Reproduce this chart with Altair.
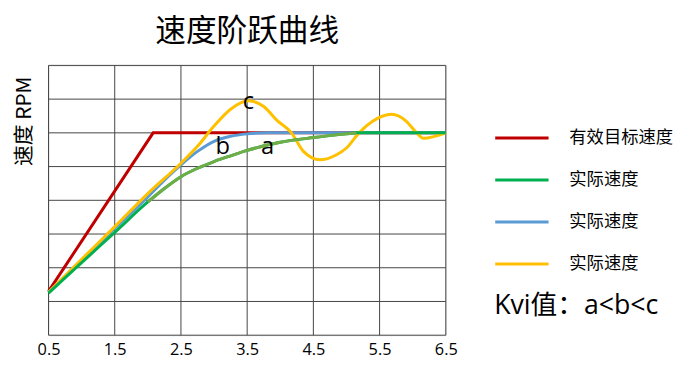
import altair as alt
import pandas as pd

# ---------------- data ----------------
title_text = "速度阶跃曲线"
y_title = "速度 RPM"
x_ticks = [0.5, 1.5, 2.5, 3.5, 4.5, 5.5, 6.5]
y_grid = [0, 1, 2, 3, 4, 5, 6, 7, 8]

series_keys = ["target", "a", "b", "c"]
series_labels = ["有效目标速度", "实际速度", "实际速度", "实际速度"]
series_colors = ["#C00000", "#00B050", "#5B9BD5", "#FFC000"]
legend_rows = [0, 1, 2, 3]
olive = "#70AD47"
kvi_text = "Kvi值：a<b<c"
kvi_row = 4

target_x = [0.5, 2.08, 6.5]
target_y = [1.3, 6.0, 6.0]

a_x = [0.5, 1.0, 1.5, 2.0, 2.25, 2.5, 2.75, 3.0, 3.25, 3.5, 4.0, 4.5, 5.0, 5.15, 6.5]
a_y = [1.25, 2.15, 3.05, 3.95, 4.35, 4.7, 4.95, 5.15, 5.32, 5.48, 5.72, 5.86, 5.97, 6.0, 6.0]

b_x = [0.5, 1.0, 1.5, 2.0, 2.25, 2.5, 2.75, 3.0, 3.25, 3.5, 3.8, 6.5]
b_y = [1.27, 2.22, 3.17, 4.1, 4.6, 5.05, 5.45, 5.75, 5.9, 5.97, 6.0, 6.0]

c_x = [0.5, 1.0, 1.5, 2.0, 2.5, 2.75, 3.0, 3.25, 3.52, 3.75, 3.95, 4.17, 4.35, 4.6,
       4.85, 5.0, 5.19, 5.4, 5.68, 5.9, 6.06, 6.16, 6.5]
c_y = [1.27, 2.25, 3.22, 4.2, 5.1, 5.6, 6.2, 6.7, 6.95, 6.78, 6.37, 6.0, 5.45, 5.2,
       5.35, 5.55, 6.0, 6.35, 6.55, 6.35, 6.0, 5.84, 6.0]

olive_range = [2.0, 5.15]

curve_labels = ["a", "b", "c"]
curve_label_x = [3.81, 3.13, 3.52]
curve_label_y = [5.38, 5.38, 6.7]

# ---------------- frames ----------------
rows = []
for key, xs, ys in [("target", target_x, target_y), ("a", a_x, a_y),
                    ("b", b_x, b_y), ("c", c_x, c_y)]:
    for i, (x, y) in enumerate(zip(xs, ys)):
        rows.append({"series": key, "x": x, "y": y, "i": i})
df = pd.DataFrame(rows)
df_labels = pd.DataFrame({"t": curve_labels, "x": curve_label_x, "y": curve_label_y})
df_xgrid = pd.DataFrame({"x": x_ticks})
df_ygrid = pd.DataFrame({"y": y_grid})
df_legend = pd.DataFrame({"series": series_keys, "label": series_labels, "row": legend_rows})
df_kvi = pd.DataFrame({"t": [kvi_text], "row": [kvi_row]})

LATIN = "Open Sans, Noto Sans CJK SC, sans-serif"
CJK = "Noto Sans CJK SC, sans-serif"
GRID = "#444444"

x_scale = alt.Scale(domain=[0.5, 6.5], nice=False, zero=False)
y_scale = alt.Scale(domain=[0, 8], nice=False, zero=False)

x_enc = alt.X("x:Q", scale=x_scale,
              axis=alt.Axis(values=x_ticks, format=".1f", title=None, ticks=False,
                            domain=False, grid=False,
                            labelFontSize=16.5, labelFont=LATIN, labelColor="#000",
                            labelPadding=7, labelFlush=False))
y_enc = alt.Y("y:Q", scale=y_scale,
              axis=alt.Axis(values=y_grid, labels=False, ticks=False, domain=False,
                            grid=False, title=y_title,
                            titleFont=CJK, titleFontSize=21, titleFontWeight="normal",
                            titleColor="#000", titleAngle=-90, titleX=-24,
                            titleY=56, titleAlign="center", titleBaseline="middle"))
color_scale = alt.Scale(domain=series_keys, range=series_colors)
color_enc = alt.Color("series:N", scale=color_scale, legend=None)

# grid lines from the tick arrays
xgrid = alt.Chart(df_xgrid).mark_rule(color=GRID, strokeWidth=1).encode(x=x_enc)
ygrid = alt.Chart(df_ygrid).mark_rule(color=GRID, strokeWidth=1).encode(y=y_enc)

base = alt.Chart(df).encode(x=x_enc, y=y_enc, color=color_enc, order="i:Q")

def line_for(key, interp="monotone"):
    return base.transform_filter(alt.datum.series == key).mark_line(
        strokeWidth=3, interpolate=interp)

olive_layer = alt.Chart(df).transform_filter(
    (alt.datum.series == "a") & (alt.datum.x >= olive_range[0]) & (alt.datum.x <= olive_range[1])
).mark_line(strokeWidth=3, interpolate="monotone", color=olive).encode(
    x=x_enc, y=y_enc, order="i:Q")

text_layer = alt.Chart(df_labels).mark_text(
    fontSize=24, font=LATIN, color="#000", baseline="alphabetic", align="center"
).encode(x=x_enc, y=y_enc, text="t:N")

main = alt.layer(
    xgrid, ygrid,
    line_for("target", "linear"), line_for("b"), line_for("c"), line_for("a"),
    olive_layer, text_layer
)

# ---- legend panel (rows placed by their own scale) ----
leg_y = alt.Y("row:Q", scale=alt.Scale(domain=[0, 4], range=[73.5, 243.5]), axis=None)
leg_rules = alt.Chart(df_legend).mark_rule(strokeWidth=3).encode(
    x=alt.value(452), x2=alt.value(506), y=leg_y,
    color=alt.Color("series:N", scale=color_scale, legend=None))
leg_text = alt.Chart(df_legend).mark_text(
    font=CJK, fontSize=17.5, color="#000", align="left", baseline="middle"
).encode(x=alt.value(527), y=leg_y, text="label:N")
kvi = alt.Chart(df_kvi).mark_text(
    font=LATIN, fontSize=27, color="#000", align="left", baseline="middle"
).encode(x=alt.value(451), y=leg_y, text="t:N")
legend_layer = alt.layer(leg_rules, leg_text, kvi)

chart = alt.layer(main, legend_layer).resolve_scale(y="independent").properties(
    width=402, height=273,
    title=alt.TitleParams(title_text, font=CJK, fontSize=31, fontWeight="normal",
                          color="#000", anchor="middle", offset=17),
    autosize=alt.AutoSizeParams(type="none"),
    padding={"left": 41, "top": 56, "right": 238, "bottom": 22},
).configure_view(stroke=None).configure(background="white")

chart.save("out.html", embed_options={"renderer": "svg", "actions": False})
